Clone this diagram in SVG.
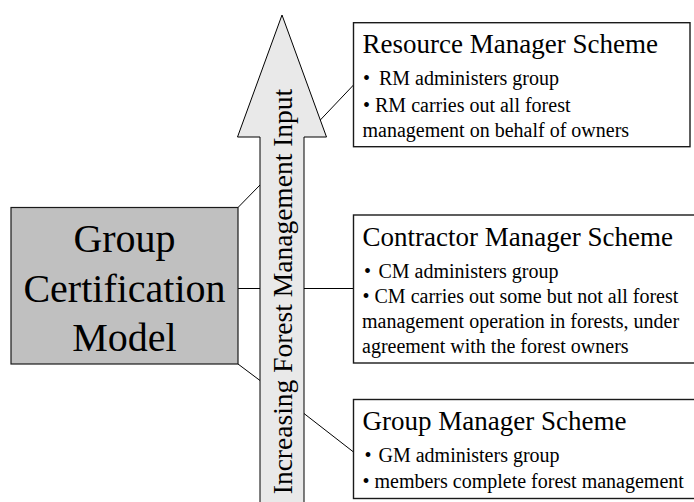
<svg xmlns="http://www.w3.org/2000/svg" width="694" height="502" viewBox="0 0 694 502">
  <style>
    text { font-family: "Liberation Serif", "Times New Roman", serif; fill: #000; }
    .model { font-size: 40px; text-anchor: middle; }
    .axis { font-size: 27.5px; text-anchor: middle; }
    .title { font-size: 27px; }
    .item { font-size: 20px; }
    .box { fill: #fff; stroke: #1a1a1a; stroke-width: 1.4; }
    .link { stroke: #000; stroke-width: 1; fill: none; }
  </style>

  <rect width="694" height="502" fill="#fff"/>

  <!-- upward arrow: increasing forest management input -->
  <g id="axis-arrow">
    <polygon points="282,15 326.5,137 304,137 304,504 260,504 260,137 237.5,137" fill="#e9e9e9" stroke="#000" stroke-width="1"/>
    <text class="axis" transform="translate(291.5,291.5) rotate(-90)">Increasing Forest Management Input</text>
  </g>

  <!-- connectors -->
  <g id="connectors">
    <line class="link" x1="238" y1="207.5" x2="260" y2="185"/>
    <line class="link" x1="238" y1="288.5" x2="260" y2="288.5"/>
    <line class="link" x1="238" y1="364" x2="260" y2="380.5"/>
    <line class="link" x1="320.3" y1="120" x2="353.5" y2="85"/>
    <line class="link" x1="304" y1="288.5" x2="353.5" y2="288.5"/>
    <line class="link" x1="304" y1="413.5" x2="353.5" y2="452"/>
  </g>

  <!-- central model box -->
  <g id="group-certification-model">
    <rect x="11" y="207.5" width="227" height="156.5" fill="#c0c0c0" stroke="#1a1a1a" stroke-width="1.2"/>
    <text class="model" x="124.5" y="252">Group</text>
    <text class="model" x="124.5" y="301.5">Certification</text>
    <text class="model" x="124.5" y="351">Model</text>
  </g>

  <!-- scheme boxes -->
  <g id="resource-manager-scheme">
    <rect class="box" x="353.5" y="22.7" width="336.5" height="124"/>
    <text class="title" x="362.5" y="53.3">Resource Manager Scheme</text>
    <text class="item" x="363" y="85">•<tspan x="379">RM administers group</tspan></text>
    <text class="item" x="363" y="111.5">• RM carries out all forest</text>
    <text class="item" x="362.5" y="136.7">management on behalf of owners</text>
  </g>

  <g id="contractor-manager-scheme">
    <rect class="box" x="353.5" y="215" width="360" height="148"/>
    <text class="title" x="362.5" y="245.5">Contractor Manager Scheme</text>
    <text class="item" x="364" y="277.5">•<tspan x="378.5">CM administers group</tspan></text>
    <text class="item" x="362.5" y="303">• CM carries out some but not all forest</text>
    <text class="item" x="362" y="328">management operation in forests, under</text>
    <text class="item" x="362" y="353">agreement with the forest owners</text>
  </g>

  <g id="group-manager-scheme">
    <rect class="box" x="353.5" y="399.5" width="360" height="99" stroke-width="1.8"/>
    <text class="title" x="362.5" y="430">Group Manager Scheme</text>
    <text class="item" x="364.5" y="462">•<tspan x="378.5">GM administers group</tspan></text>
    <text class="item" x="362.5" y="488">• members complete forest management</text>
  </g>
</svg>
